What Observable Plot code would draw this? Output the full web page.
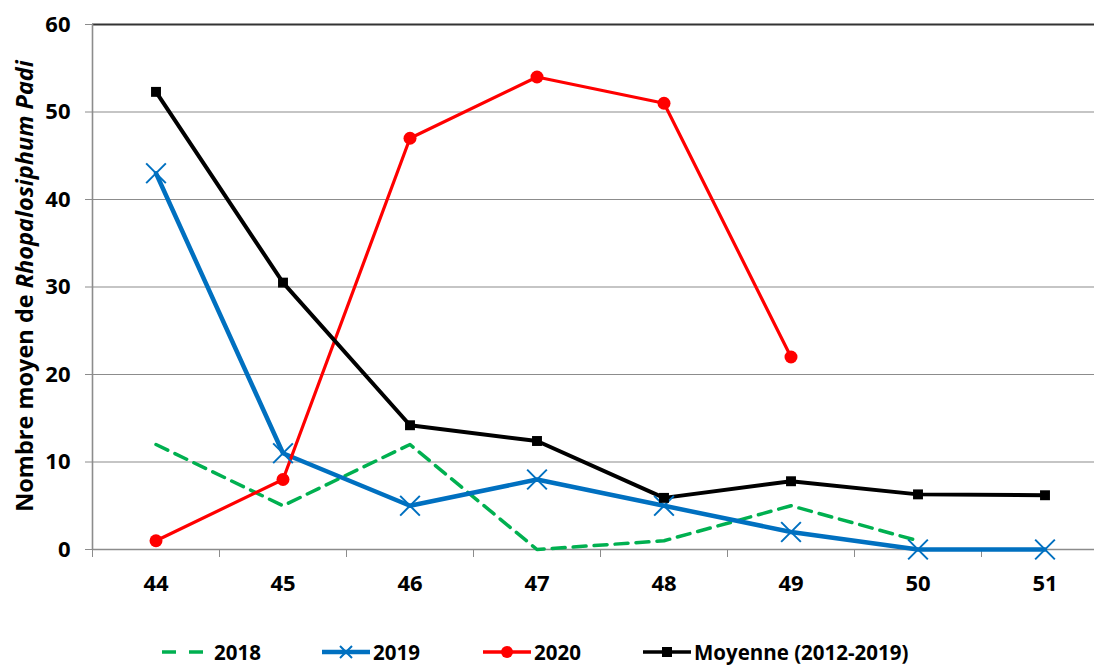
<!DOCTYPE html>
<html><head><meta charset="utf-8">
<script src="https://cdn.jsdelivr.net/npm/d3@7"></script>
<script src="https://cdn.jsdelivr.net/npm/@observablehq/plot@0.6"></script>
<style>
body{margin:0;background:#fff;}
#wrap{position:relative;width:1094px;height:667px;overflow:hidden;font-family:"Open Sans",sans-serif;}
#wrap svg.plot{position:absolute;left:0;top:0;}
.leg{position:absolute;top:638px;display:flex;align-items:center;font-weight:bold;font-size:20.5px;height:28px;line-height:28px;font-family:"Open Sans",sans-serif;}
.leg svg{display:block;}
</style></head><body><div id="wrap"></div>
<script>
const weeks = [44, 45, 46, 47, 48, 49, 50, 51];
const s2018 = [12, 5, 12, 0, 1, 5, 1, null];
const s2019 = [43, 11, 5, 8, 5, 2, 0, 0];
const s2020 = [1, 8, 47, 54, 51, 22, null, null];
const moyenne = [52.3, 30.5, 14.2, 12.4, 5.9, 7.8, 6.3, 6.2];
const yTicks = [0, 10, 20, 30, 40, 50, 60];
const seriesNames = ["2018", "2019", "2020", "Moyenne (2012-2019)"];
const seriesColors = ["#00B050", "#0070C0", "#FF0000", "#000000"];
const yTitleParts = ["Nombre moyen de ", "Rhopalosiphum Padi"];

const allSeries = [s2018, s2019, s2020, moyenne];
const rowsFor = (vals, name) => weeks.map((w, i) => ({week: w, value: vals[i], series: name})).filter(d => d.value != null);
const rows = allSeries.map((v, i) => rowsFor(v, seriesNames[i]));
const bounds = [weeks[0] - 0.5, ...weeks.map(w => w + 0.5)];

const chart = Plot.plot({
  width: 1094,
  height: 610,
  marginLeft: 92,
  marginRight: 0,
  marginTop: 24,
  marginBottom: 61,
  style: {fontFamily: "'Open Sans', sans-serif", fontSize: "22px", fontWeight: "bold", color: "#000", background: "#fff"},
  x: {type: "linear", domain: [bounds[0], bounds[bounds.length - 1]], range: [92, 1108]},
  y: {domain: [0, 60]},
  marks: [
    Plot.ruleY(yTicks.filter(t => t > 0 && t < 60), {stroke: "#8c8c8c", strokeWidth: 1.2}),
    Plot.ruleY([yTicks[yTicks.length - 1]], {stroke: "#333", strokeWidth: 1.8}),
    Plot.ruleY([0], {stroke: "#8c8c8c", strokeWidth: 1.6}),
    Plot.ruleX([bounds[0]], {y1: 0, y2: 60, stroke: "#8c8c8c", strokeWidth: 1.6}),
    Plot.axisY({ticks: yTicks, tickSize: 7, tickPadding: 15, stroke: "#8c8c8c", fill: "#000", label: null, fontSize: 22, fontWeight: "bold"}),
    Plot.axisX({ticks: bounds, tickSize: 8, tickFormat: () => "", stroke: "#8c8c8c", label: null}),
    Plot.axisX({ticks: weeks, tickSize: 0, tickPadding: 26, tickFormat: d => String(d), fill: "#000", label: null, fontSize: 22, fontWeight: "bold"}),
    Plot.line(rows[0], {x: "week", y: "value", stroke: seriesColors[0], strokeWidth: 3.5, strokeDasharray: "13,8"}),
    Plot.line(rows[1], {x: "week", y: "value", stroke: seriesColors[1], strokeWidth: 4.5}),
    Plot.line(rows[2], {x: "week", y: "value", stroke: seriesColors[2], strokeWidth: 3.2}),
    Plot.line(rows[3], {x: "week", y: "value", stroke: seriesColors[3], strokeWidth: 4}),
    Plot.dot(rows[1], {x: "week", y: "value", symbol: "times", r: 9, stroke: seriesColors[1], strokeWidth: 2}),
    Plot.dot(rows[2], {x: "week", y: "value", symbol: "circle", r: 6.5, fill: seriesColors[2], stroke: "none"}),
    Plot.dot(rows[3], {x: "week", y: "value", symbol: "square", r: 5.6, fill: seriesColors[3], stroke: "none"})
  ]
});
chart.classList.add("plot");
const wrap = document.getElementById("wrap");
wrap.appendChild(chart);

// Y axis title with italic species name
const svg = d3.select(chart);
const t = svg.append("text")
  .attr("transform", "translate(33,286) rotate(-90)")
  .attr("text-anchor", "middle")
  .attr("font-family", "'Open Sans', sans-serif")
  .attr("font-size", 23.5)
  .attr("font-weight", "bold")
  .attr("fill", "#000");
t.append("tspan").text(yTitleParts[0]);
t.append("tspan").attr("font-style", "italic").text(yTitleParts[1]);

// Legend
const legLeft = [162, 322, 483, 643];
seriesNames.forEach((name, i) => {
  const item = document.createElement("div");
  item.className = "leg";
  item.style.left = legLeft[i] + "px";
  const w = i === 0 ? 41 : 48;
  const s = d3.create("svg").attr("width", w).attr("height", 20);
  s.append("line").attr("x1", 0).attr("x2", w).attr("y1", 10).attr("y2", 10)
    .attr("stroke", seriesColors[i]).attr("stroke-width", i === 1 ? 4.5 : 3.6)
    .attr("stroke-dasharray", i === 0 ? "14,13" : null);
  if (i === 1) {
    s.append("path").attr("d", "M18,4L30,16M30,4L18,16").attr("stroke", seriesColors[i]).attr("stroke-width", 2);
  } else if (i === 2) {
    s.append("circle").attr("cx", 24).attr("cy", 10).attr("r", 6).attr("fill", seriesColors[i]);
  } else if (i === 3) {
    s.append("rect").attr("x", 19).attr("y", 5).attr("width", 10).attr("height", 10).attr("fill", seriesColors[i]);
  }
  item.appendChild(s.node());
  const span = document.createElement("span");
  span.textContent = name;
  span.style.marginLeft = (i === 0 ? 11 : 3) + "px";
  item.appendChild(span);
  wrap.appendChild(item);
});
</script>
</body></html>
